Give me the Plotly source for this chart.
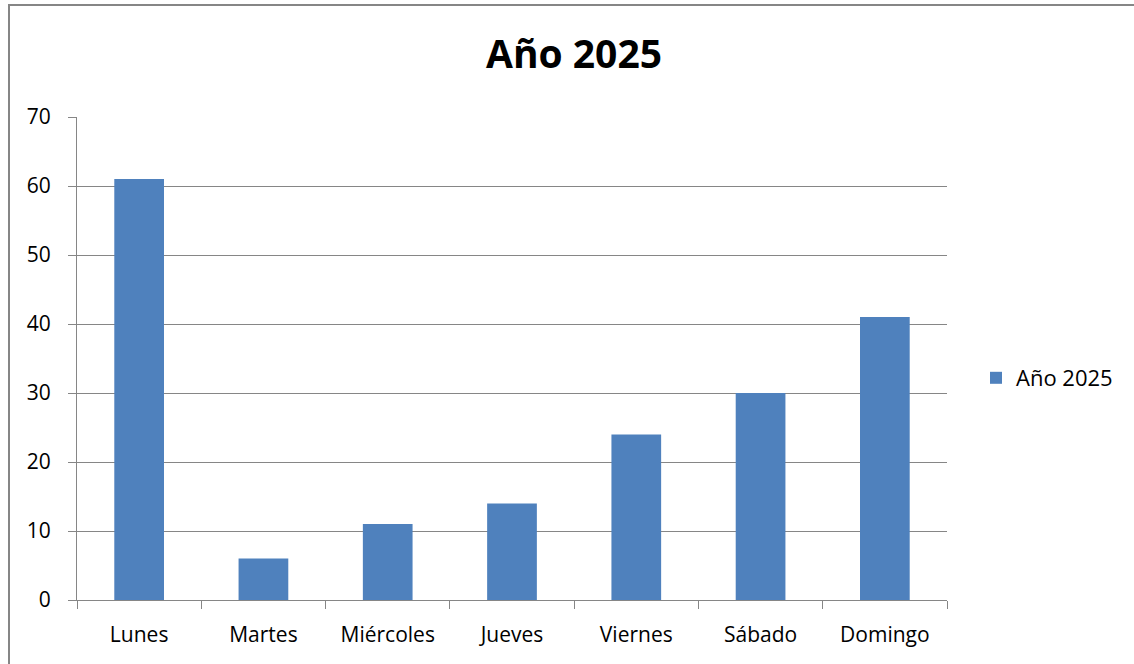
import plotly.graph_objects as go

dias = ["Lunes", "Martes", "Miércoles", "Jueves", "Viernes", "Sábado", "Domingo"]
valores = [61, 6, 11, 14, 24, 30, 41]
serie = "Año 2025"

W, H = 1134, 664
L, R, T, B = 77, 187, 117, 64
pw, ph = W - L - R, H - T - B

GRID = "#868686"
FONT = "Open Sans"

fig = go.Figure()
fig.add_trace(go.Bar(
    x=dias, y=valores, name=serie,
    marker=dict(color="#4F81BD", line=dict(width=0)),
    showlegend=True,
))

fig.update_layout(
    width=W, height=H,
    margin=dict(l=L, r=R, t=T, b=B),
    paper_bgcolor="white", plot_bgcolor="white",
    bargap=0.6,
    font=dict(family=FONT, size=21, color="black"),
    title=dict(text="<b>Año 2025</b>", x=574 / W, xanchor="center",
               y=1 - 54 / H, yanchor="middle",
               font=dict(family=FONT, size=39, color="black")),
    showlegend=True,
    legend=dict(x=(976 - L) / pw, xanchor="left", y=(600 - 378) / ph, yanchor="middle",
                font=dict(family=FONT, size=22), itemwidth=30,
                bgcolor="rgba(0,0,0,0)"),
    xaxis=dict(showline=True, linecolor=GRID, linewidth=1,
               ticks="outside", tickson="boundaries", ticklen=8, tickcolor=GRID,
               showgrid=False, tickfont=dict(size=21), ticklabelstandoff=16),
    yaxis=dict(range=[0, 70], dtick=10, showline=True, linecolor=GRID, linewidth=1,
               ticks="outside", ticklen=8, tickcolor=GRID,
               showgrid=True, gridcolor=GRID, gridwidth=1, zeroline=False,
               tickfont=dict(size=21), ticklabelstandoff=13),
    # outer chart border
    shapes=[dict(type="rect", xref="paper", yref="paper",
                 x0=(9 - L) / pw, x1=(W + 20 - L) / pw,
                 y0=-(H + 20 - 600) / ph, y1=(600 - 5) / ph,
                 line=dict(color=GRID, width=2), fillcolor="rgba(0,0,0,0)")],
)

# drop the default 8px body margin so the figure sits at the page corner
fig.write_html("out.html", config={"displayModeBar": False},
               post_script="document.body.style.margin='0';")
